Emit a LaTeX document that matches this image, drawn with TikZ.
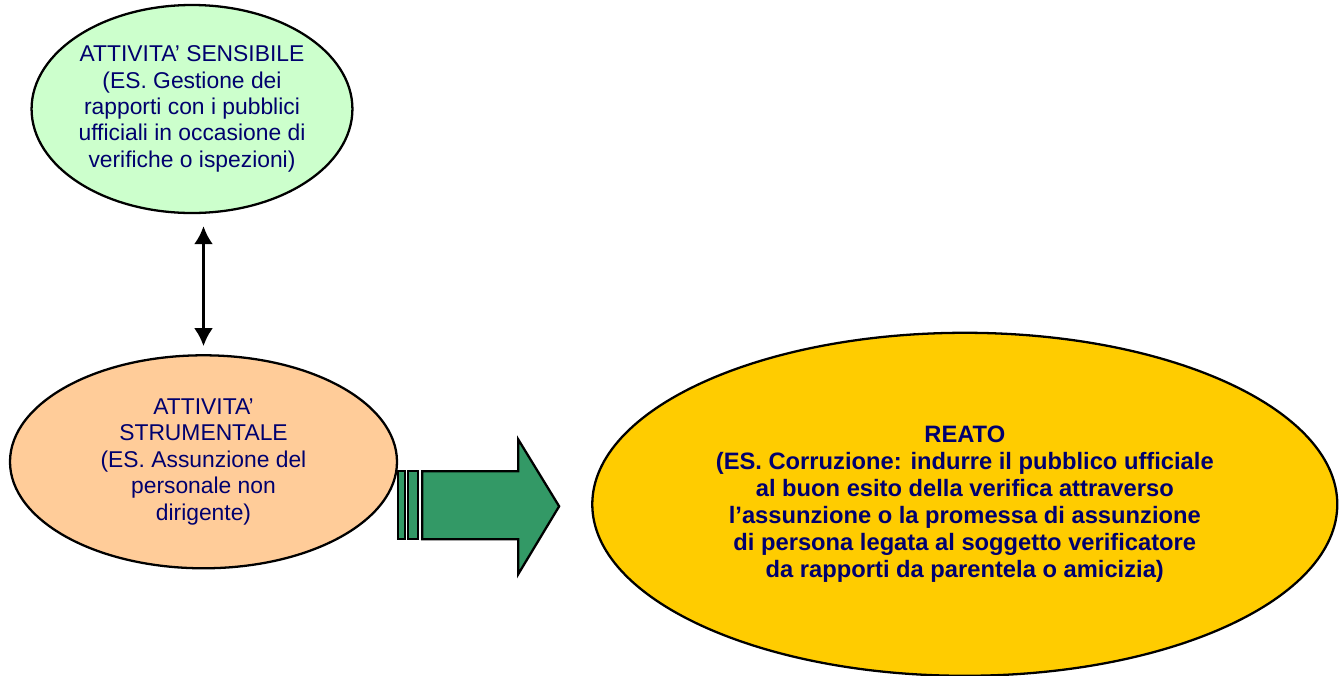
\documentclass[tikz,border=0pt]{standalone}
\usepackage{fontspec}
\setmainfont{Liberation Sans}
\usetikzlibrary{shapes,arrows,arrows.meta,positioning,calc}

\definecolor{sensgreen}{RGB}{204,255,204}
\definecolor{strumorange}{RGB}{255,204,153}
\definecolor{reatoyellow}{RGB}{255,204,0}
\definecolor{arrowgreen}{RGB}{51,153,102}
\definecolor{textnavy}{RGB}{0,0,110}

\begin{document}
\begin{tikzpicture}[
    every node/.style={font=\fontsize{13pt}{15pt}\selectfont, text=textnavy},
    activity/.style={ellipse, draw, line width=1.3pt, inner sep=0pt, align=center},
    reatobox/.style={ellipse, draw, line width=1.3pt, inner sep=0pt, align=center, font=\fontsize{13.5pt}{15.3pt}\selectfont\bfseries},
    line/.style={draw, line width=1.6pt, {Latex[length=0.36cm,width=0.38cm]}-{Latex[length=0.36cm,width=0.38cm]}},
    blockarrow/.style={draw, line width=1.3pt, fill=arrowgreen}
]
\useasboundingbox (0,0) rectangle (26.82,-13.5);

% Activities
\node[activity, fill=sensgreen, minimum width=6.2cm, minimum height=4.16cm] (sensibile) at (3.84,-2.18) {ATTIVITA' SENSIBILE \\ (ES. Gestione dei \\ rapporti con i pubblici \\ ufficiali in occasione di \\ verifiche o ispezioni)};
\node[activity, fill=strumorange, minimum width=7.74cm, minimum height=4.26cm, below=2.8cm of sensibile, xshift=0.23cm] (strumentale) {ATTIVITA' \\ STRUMENTALE \\ (ES. Assunzione del \\ personale non \\ dirigente)};

% Offence
\node[reatobox, fill=reatoyellow, minimum width=14.9cm, minimum height=6.86cm, right=3.86cm of strumentale, yshift=-0.85cm] (reato) {REATO \\ (ES. Corruzione: indurre il pubblico ufficiale \\ al buon esito della verifica attraverso \\ l'assunzione o la promessa di assunzione \\ di persona legata al soggetto verificatore \\ da rapporti da parentela o amicizia)};

% Connections
\path [line, shorten <=0.24cm, shorten >=0.16cm] (strumentale.north |- sensibile.south) -- (strumentale.north);

% Block arrow towards the offence
\begin{scope}[shift={(strumentale.east)}]
\filldraw[blockarrow] (0,-0.19) rectangle (0.14,-1.55);
\filldraw[blockarrow] (0.2,-0.19) rectangle (0.4,-1.55);
\filldraw[blockarrow] (0.48,-0.19) -- (2.4,-0.19) -- (2.4,0.45) -- (3.22,-0.89) -- (2.4,-2.25) -- (2.4,-1.55) -- (0.48,-1.55) -- cycle;
\end{scope}

\end{tikzpicture}
\end{document}
